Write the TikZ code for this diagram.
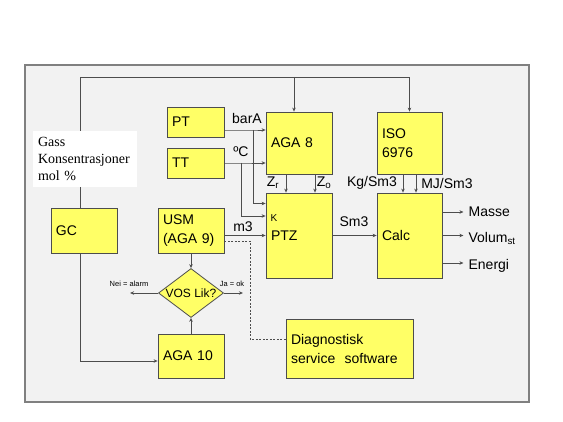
\documentclass[tikz,border=0pt]{standalone}
\usepackage{fontspec}
\setmainfont{Liberation Sans}
\newfontfamily\gassfont{Liberation Serif}
\usetikzlibrary{arrows.meta, shapes.geometric}
\definecolor{gulboks}{RGB}{255,255,102}
\definecolor{panel}{RGB}{242,242,242}
\definecolor{ramme}{RGB}{128,128,128}
\definecolor{strek}{RGB}{77,77,77}
\newcommand{\stor}{\fontsize{14}{19}\selectfont}
\newcommand{\liten}{\fontsize{7.5}{9}\selectfont}

\begin{document}
\begin{tikzpicture}[x=1pt, y=-1pt,
  boks/.style={draw=strek, fill=gulboks, line width=0.8pt, font=\stor, align=left, inner xsep=5pt, inner ysep=0pt},
  pil/.style={draw=strek, line width=0.8pt, -{Stealth[length=4pt, width=3.5pt]}},
  linje/.style={draw=strek, line width=0.8pt},
  stiplet/.style={draw=strek, line width=0.6pt, dash pattern=on 2pt off 1.5pt},
  etikett/.style={font=\stor, inner sep=0pt}] % {{{
\useasboundingbox (0,0) rectangle (563,422);
\draw[draw=ramme, fill=panel, line width=1.2pt] (25,65) rectangle (529,402);
% Bokser {{{
\node[boks, text width=47pt, minimum height=30pt] (pt) at (195.5,122) {PT};
\node[boks, text width=47pt, minimum height=30pt] (tt) at (195.5,163) {TT};
\node[boks, text width=56pt, minimum height=62pt] (aga8) at (299,143) {AGA 8};
\node[boks, text width=55pt, minimum height=62pt] (iso) at (409.5,143) {ISO\\6976};
\node[boks, text width=56pt, minimum height=85pt] (ptz) at (299,235.5) {PTZ};
\node[boks, text width=55pt, minimum height=85pt] (calc) at (409.5,235.5) {Calc};
\node[boks, text width=56pt, minimum height=45pt] (gc) at (84,230.5) {GC};
\node[boks, text width=56pt, minimum height=45pt] (usm) at (191,230.5) {USM\\(AGA 9)};
\node[boks, shape=diamond, shape aspect=1.33, inner sep=0pt, minimum width=65pt, minimum height=49pt,
  font=\fontsize{12}{14}\selectfont] (vos) at (191,293) {VOS Lik?};
\node[boks, text width=56pt, minimum height=44pt] (aga10) at (191,356) {AGA 10};
\node[boks, text width=117pt, minimum height=59pt] (diag) at (349.5,348.5) {Diagnostisk\\service\ \ software};
\node[fill=white, text width=94pt, minimum height=56pt, inner xsep=5pt, inner ysep=0pt, align=left,
  font=\gassfont\fontsize{14}{17}\selectfont] (gass) at (85,159) {Gass\\Konsentrasjoner\\mol \%};
% }}}
% Linjer {{{
\coordinate (topp) at (80,77);
\coordinate (pgren) at (253,130);
\coordinate (tgren) at (241,163);
\coordinate (dknekk) at (250,339);
\draw[pil] (gass.north -| topp) -- (topp) -| (iso.north);
\draw[pil] ([xshift=-5pt]aga8.north |- topp) -- ([xshift=-5pt]aga8.north);
\draw[linje] (gass.south -| topp) -- (gc.north -| topp);
\draw[pil] (gc.south -| topp) |- ([yshift=-5pt]aga10.west);
\draw[pil] ([yshift=-8pt]pt.east) -- (pgren) -- (pgren -| aga8.west);
\draw[pil] (tt.east) -- (tgren) -- (tgren -| aga8.west);
\draw[pil] (pgren) |- ([yshift=32pt]ptz.west);
\draw[pil] (tgren) |- ([yshift=19.5pt]ptz.west);
\draw[pil] (usm.east |- ptz.west) -- (ptz.west);
\draw[pil] (ptz.east) -- (calc.west);
\draw[pil] ([xshift=-13pt]aga8.south) -- ([xshift=-13pt]ptz.north);
\draw[pil] ([xshift=16pt]aga8.south) -- ([xshift=16pt]ptz.north);
\draw[pil] ([xshift=-6.5pt]iso.south) -- ([xshift=-6.5pt]calc.north);
\draw[pil] ([xshift=6.5pt]iso.south) -- ([xshift=6.5pt]calc.north);
\draw[pil] ([yshift=23.5pt]calc.east) -- ++(21,0) coordinate (masse);
\draw[pil] (calc.east) -- ++(21,0) coordinate (volum);
\draw[pil] ([yshift=-27.5pt]calc.east) -- ++(21,0) coordinate (energi);
\draw[pil] (usm.south) -- (vos.north);
\draw[pil] (aga10.north) -- (vos.south);
\draw[pil] (vos.west) -- ++(-28,0) coordinate (nei);
\draw[pil] (vos.east) -- ++(19,0) coordinate (ja);
\draw[stiplet] ([yshift=-10.5pt]usm.east) -| (dknekk) -- (dknekk -| diag.west);
% }}}
% Etiketter {{{
\node[etikett] (bara) at (247,118) {barA};
\node[etikett] (grader) at (241,152) {ºC};
\node[etikett] (m3) at (243,227) {m3};
\node[etikett] (sm3) at (354,222) {Sm3};
\node[etikett] (zr) at (273,183) {Z\textsubscript{r}};
\node[etikett] (zo) at (324,183) {Z\textsubscript{o}};
\node[etikett] (kg) at (372,183) {Kg/Sm3};
\node[etikett] (mj) at (447,183) {MJ/Sm3};
\node[etikett, font=\fontsize{10}{12}\selectfont] (k) at (274,218) {K};
\node[etikett, anchor=west] (massetekst) at ([xshift=5pt]masse) {Masse};
\node[etikett, anchor=west] (volumtekst) at ([xshift=5pt, yshift=-3pt]volum) {Volum\textsubscript{st}};
\node[etikett, anchor=west] (energitekst) at ([xshift=5pt, yshift=-3pt]energi) {Energi};
\node[etikett, font=\liten] (neitekst) at (129,284) {Nei = alarm};
\node[etikett, font=\liten] (jatekst) at (232,284) {Ja = ok};
% }}}
\end{tikzpicture} % }}}
\end{document}
